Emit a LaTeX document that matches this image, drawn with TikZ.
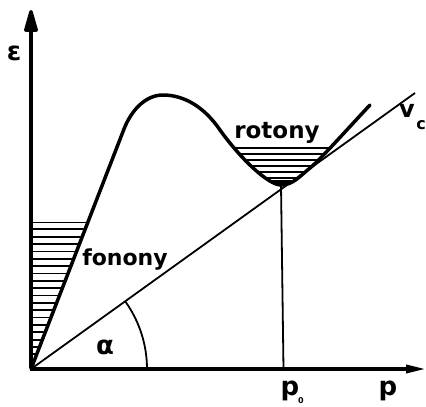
\documentclass[tikz,border=0pt]{standalone}
\usepackage{fontspec}
\setmainfont{DejaVu Sans}
\usetikzlibrary{arrows.meta}
\begin{document}
\begin{tikzpicture}[x=1pt,y=-1pt,
  axis/.style={line width=3.5pt},
  curve/.style={line width=3.5pt,line join=round,line cap=round},
  thin/.style={line width=1.8pt},
  hatch/.style={line width=1.8pt},
  lbl/.style={inner sep=0pt,font=\bfseries\fontsize{23}{23}\selectfont},
  sym/.style={inner sep=0pt,font=\bfseries\fontsize{26}{26}\selectfont}]
\useasboundingbox (0,0) rectangle (426,407);
% coordinates
\coordinate (O) at (31,369);
\coordinate (ytip) at (31,10);
\coordinate (xtip) at (426,369);
\coordinate (vc) at (415,93);
\coordinate (pzero) at (283.5,369);
\coordinate (rmin) at (281,185);
% phonon hatching
\begin{scope}
  \clip (31,369) -- (31,222) -- (88.3,222) -- cycle;
  \foreach \i in {0,...,20}
    \draw[hatch] (25,222+7.35*\i) -- (100,222+7.35*\i);
\end{scope}
% roton hatching
\begin{scope}
  \clip (220,130) .. controls (240,158) and (268,185) .. (281,185)
        .. controls (293,185) and (300,176) .. (310,168)
        .. controls (320,160) and (352,124) .. (370,105) -- (370,60) -- (220,60) -- cycle;
  \clip (200,147) rectangle (380,200);
  \foreach \y in {148,154,160,166,172,178}
    \draw[hatch] (200,\y) -- (380,\y);
  \fill (200,180) rectangle (380,200);
\end{scope}
% v_c line and vertical line
\draw[thin] (O) -- (vc);
\draw[thin] (pzero) -- (rmin);
% angle arc
\draw[thin] (147,369) arc[start angle=0,end angle=-35.7,radius=116];
% dispersion curve
\draw[curve] (O) -- (124,129) .. controls (131,111) and (145,95) .. (163,95)
  .. controls (185,95) and (205,108) .. (220,130)
  .. controls (240,158) and (268,185) .. (rmin)
  .. controls (293,185) and (300,176) .. (310,168)
  .. controls (320,160) and (352,124) .. (370,105);
% axes
\draw[axis,-{Triangle[width=14pt,length=27pt,round]}] ([yshift=1.5pt]O) -- (ytip);
\draw[axis,-{Triangle[width=8pt,length=20pt]}] ([xshift=-1.5pt]O) -- (xtip);
% labels
\node[lbl,anchor=base] (rot) at (277,138) {rotony};
\node[lbl,anchor=base,font=\bfseries\fontsize{22}{22}\selectfont] (fon) at (125,265) {fonony};
\node[sym] (eps) at (14,53) {ε};
\node[sym] (alp) at (105,347) {α};
\node[sym,anchor=base] (p) at (388,395) {p};
\node[sym,anchor=base] (p0) at (290,395) {p};
\node[inner sep=0pt,font=\bfseries\fontsize{8}{8}\selectfont] (p0s) at (301,401) {0};
\node[sym,font=\bfseries\fontsize{24}{24}\selectfont] (v) at (407,111) {v};
\node[inner sep=0pt,font=\bfseries\fontsize{16}{16}\selectfont] (c) at (421,125) {c};
\end{tikzpicture}
\end{document}
